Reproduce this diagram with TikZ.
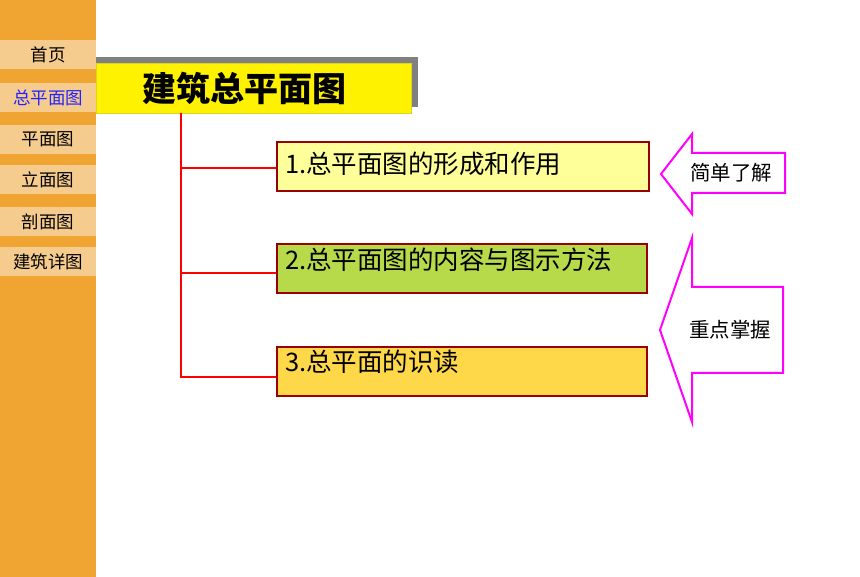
\documentclass[tikz,border=0pt]{standalone}
\usepackage{fontspec}
\setmainfont{Noto Sans CJK SC}
\usepackage{tikz}
\usetikzlibrary{positioning,calc}
\definecolor{sidebar}{HTML}{F0A431}
\definecolor{tabfill}{HTML}{F6CC8E}
\definecolor{boxline}{HTML}{990000}
\definecolor{linkblue}{HTML}{2222FF}
\definecolor{pink}{HTML}{FF00FF}

\begin{document}
\begin{tikzpicture}[x=1pt,y=-1pt,
    tab/.style={fill=tabfill, minimum width=96pt, minimum height=29pt, inner sep=0pt,
      anchor=north west, font=\fontsize{17.5}{17.5}\selectfont},
    topic/.style={draw=boxline, line width=2pt, minimum height=49pt, inner sep=0pt, anchor=north west},
    topictext/.style={anchor=west, inner sep=0pt, font=\fontsize{25.5}{25.5}\selectfont},
    hint/.style={draw=pink, line width=2pt, fill=white, line join=miter},
    hinttext/.style={font=\fontsize{20.5}{20.5}\selectfont},
    branch/.style={draw=red, line width=2pt}]
    \useasboundingbox (0,0) rectangle (860,577);

    % left menu
    \fill[sidebar] (0,0) rectangle (96,577);
    \node[tab] (home) at (0,40) {首页};
    \node[tab, text=linkblue] (site) at (0,83) {总平面图};
    \node[tab] (plan) at (0,125) {平面图};
    \node[tab] (elev) at (0,165) {立面图};
    \node[tab] (sect) at (0,207) {剖面图};
    \node[tab] (detail) at (0,247) {建筑详图};

    % title
    \fill[gray] (96,57) rectangle (418,107);
    \node[fill=yellow, draw=yellow!85!black, minimum width=315pt, minimum height=50pt,
      inner sep=0pt, anchor=north west] (title) at (96,63) {};
    \node[anchor=west, font=\fontsize{34}{34}\selectfont\bfseries] (titletext) at (139,88) {建筑总平面图};

    % topics
    \node[topic, fill={rgb,255:red,255;green,255;blue,153}, minimum width=372pt] (box1) at (276,141) {};
    \node[topic, fill={rgb,255:red,183;green,218;blue,74}, minimum width=370pt] (box2) at (276,243) {};
    \node[topic, fill={rgb,255:red,255;green,216;blue,74}, minimum width=370pt] (box3) at (276,346) {};
    \node[topictext] (text1) at ($(box1.north west)+(9,23)$) {1.总平面图的形成和作用};
    \node[topictext] (text2) at ($(box2.north west)+(9,17)$) {2.总平面图的内容与图示方法};
    \node[topictext] (text3) at ($(box3.north west)+(9,16)$) {3.总平面的识读};

    % tree lines
    \coordinate (trunk) at (181,113);
    \coordinate (end1) at ($(box1.west)+(0,1.5)$);
    \coordinate (end2) at ($(box2.west)+(0,5)$);
    \coordinate (end3) at ($(box3.west)+(0,6)$);
    \draw[branch] (trunk) |- (end3);
    \draw[branch] (trunk |- end1) -- (end1);
    \draw[branch] (trunk |- end2) -- (end2);

    % hint arrows
    \draw[hint] (661,174) -- (692,134) -- (692,153) -- (785,153) -- (785,193)
      -- (692,193) -- (692,214) -- cycle;
    \node[hinttext] (easy) at (731,173) {简单了解};
    \draw[hint] (660,330) -- (692,238) -- (692,287) -- (783,287) -- (783,373)
      -- (692,373) -- (692,422) -- cycle;
    \node[hinttext] (key) at (730,330) {重点掌握};
\end{tikzpicture}
\end{document}
